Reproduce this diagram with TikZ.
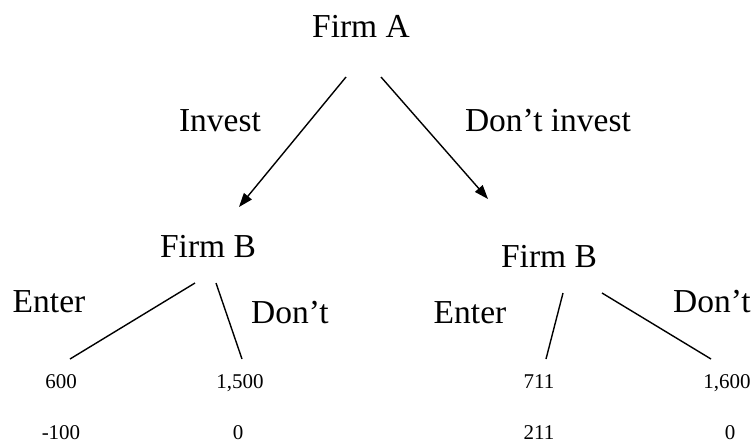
\documentclass[tikz,border=0pt]{standalone}
\usepackage{fontspec}
\setmainfont{Liberation Serif}
\usetikzlibrary{arrows.meta}
\tikzset{
  big/.style={font=\fontsize{33.5}{36}\selectfont, inner sep=0pt, anchor=base},
  num/.style={font=\fontsize{21}{24}\selectfont, inner sep=0pt, anchor=base},
  edge/.style={line width=1.4pt},
  arr/.style={edge, -{Triangle[length=14pt,width=10pt]}}
}
\begin{document}
\begin{tikzpicture}[x=1pt,y=-1pt]
\useasboundingbox (0,0) rectangle (754,445);
% labels
\node[big] (fa) at (361,37) {Firm A};
\node[big] (inv) at (220,131) {Invest};
\node[big] (dinv) at (548,131) {Don’t invest};
\node[big] (fbl) at (208,257) {Firm B};
\node[big] (fbr) at (549,267) {Firm B};
\node[big] (el) at (49,312) {Enter};
\node[big] (dl) at (290,323) {Don’t};
\node[big] (er) at (470,323) {Enter};
\node[big] (dr) at (712,312) {Don’t};
% payoffs
\node[num] (p1a) at (61,388) {600};
\node[num] (p1b) at (61,439) {-100};
\node[num] (p2a) at (240,388) {1,500};
\node[num] (p2b) at (238,439) {0};
\node[num] (p3a) at (539,388) {711};
\node[num] (p3b) at (539,439) {211};
\node[num] (p4a) at (727,388) {1,600};
\node[num] (p4b) at (730,439) {0};
% connector end points
\coordinate (a1) at (346,77);
\coordinate (a1e) at (239,207);
\coordinate (a2) at (381,77);
\coordinate (a2e) at (488,199);
\coordinate (l1) at (195,283);
\coordinate (l1e) at (70,359);
\coordinate (l2) at (216,283);
\coordinate (l2e) at (242,359);
\coordinate (r1) at (563,293);
\coordinate (r1e) at (546,359);
\coordinate (r2) at (602,293);
\coordinate (r2e) at (711,359);
% connectors
\draw[arr] (a1) -- (a1e);
\draw[arr] (a2) -- (a2e);
\draw[edge] (l1) -- (l1e);
\draw[edge] (l2) -- (l2e);
\draw[edge] (r1) -- (r1e);
\draw[edge] (r2) -- (r2e);
\end{tikzpicture}
\end{document}
